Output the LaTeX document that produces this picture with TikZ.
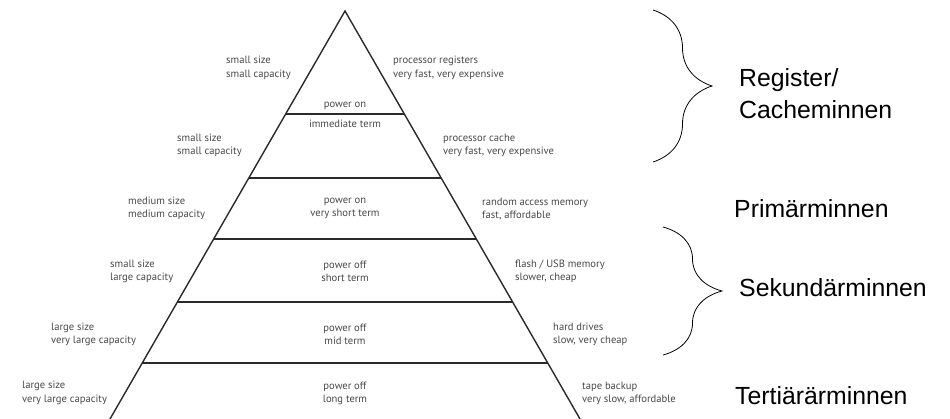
\documentclass[tikz,border=0pt]{standalone}
\usepackage{fontspec}
\setmainfont{Liberation Sans}
\newfontfamily\smallfam{PT Sans}
\usetikzlibrary{calc,decorations.pathreplacing}
\definecolor{txtgray}{HTML}{484848}
\definecolor{linegray}{HTML}{2A2A2A}
\begin{document}
\begin{tikzpicture}[x=1pt,y=-1pt,
  side/.style={draw=linegray,line width=1.4pt},
  band/.style={draw=linegray,line width=2pt},
  small/.style={font=\smallfam\fontsize{10.6}{13.5}\selectfont,text=txtgray,inner sep=0pt},
  lefttxt/.style={small,align=left,anchor=west},
  midtxt/.style={small,align=center},
  bigtxt/.style={font=\fontsize{24.8}{30}\selectfont,inner sep=0pt,anchor=base west},
  curly/.style={draw=black,line width=0.8pt,decorate,decoration={brace,amplitude=59pt}}
]
\useasboundingbox (0,0) rectangle (950,419);
% pyramid
\coordinate (apex) at (345,11);
\coordinate (bl) at (110,419);
\coordinate (br) at (580,419);
\draw[side] (bl) -- (apex) -- (br);
\foreach \t/\n in {0.2525/1,0.4093/2,0.5588/3,0.7132/4,0.8627/5}{
  \coordinate (l\n) at ($(apex)!\t!(bl)$);
  \coordinate (r\n) at ($(apex)!\t!(br)$);
  \draw[band] (l\n) -- (r\n);
}
% left texts
\node[lefttxt] (L1) at (226,68) {small size\\small capacity};
\node[lefttxt] (L2) at (177,145.5) {small size\\small capacity};
\node[lefttxt] (L3) at (128,208.5) {medium size\\medium capacity};
\node[lefttxt] (L4) at (110,271.5) {small size\\large capacity};
\node[lefttxt] (L5) at (51,334.5) {large size\\very large capacity};
\node[lefttxt] (L6) at (22,393) {large size\\very large capacity};
% right texts
\node[lefttxt] (R1) at (393,68) {processor registers\\very fast, very expensive};
\node[lefttxt] (R2) at (443,145.5) {processor cache\\very fast, very expensive};
\node[lefttxt] (R3) at (482,209) {random access memory\\fast, affordable};
\node[lefttxt] (R4) at (515,271.5) {flash / USB memory\\slower, cheap};
\node[lefttxt] (R5) at (553,334.5) {hard drives\\slow, very cheap};
\node[lefttxt] (R6) at (582,393.5) {tape backup\\very slow, affordable};
% middle texts
\node[midtxt] (C1) at (345,106) {power on};
\node[midtxt] (C2) at (345,124) {immediate term};
\node[midtxt] (C3) at (345,208.5) {power on\\very short term};
\node[midtxt] (C4) at (345,271.5) {power off\\short term};
\node[midtxt] (C5) at (345,334.5) {power off\\mid term};
\node[midtxt] (C6) at (345,393.5) {power off\\long term};
% braces
\coordinate (b1t) at (653,10);
\coordinate (b1b) at (653,162);
\coordinate (b2t) at (663,227);
\coordinate (b2b) at (663,355);
\draw[curly] (b1t) -- (b1b);
\draw[curly] (b2t) -- (b2b);
% group labels
\node[bigtxt] (reg) at (739,87) {Register/};
\node[bigtxt] (cache) at (739,119) {Cacheminnen};
\node[bigtxt] (prim) at (734,218) {Primärminnen};
\node[bigtxt] (sek) at (739,297) {Sekundärminnen};
\node[bigtxt] (ter) at (735,404) {Tertiärärminnen};
\end{tikzpicture}
\end{document}
